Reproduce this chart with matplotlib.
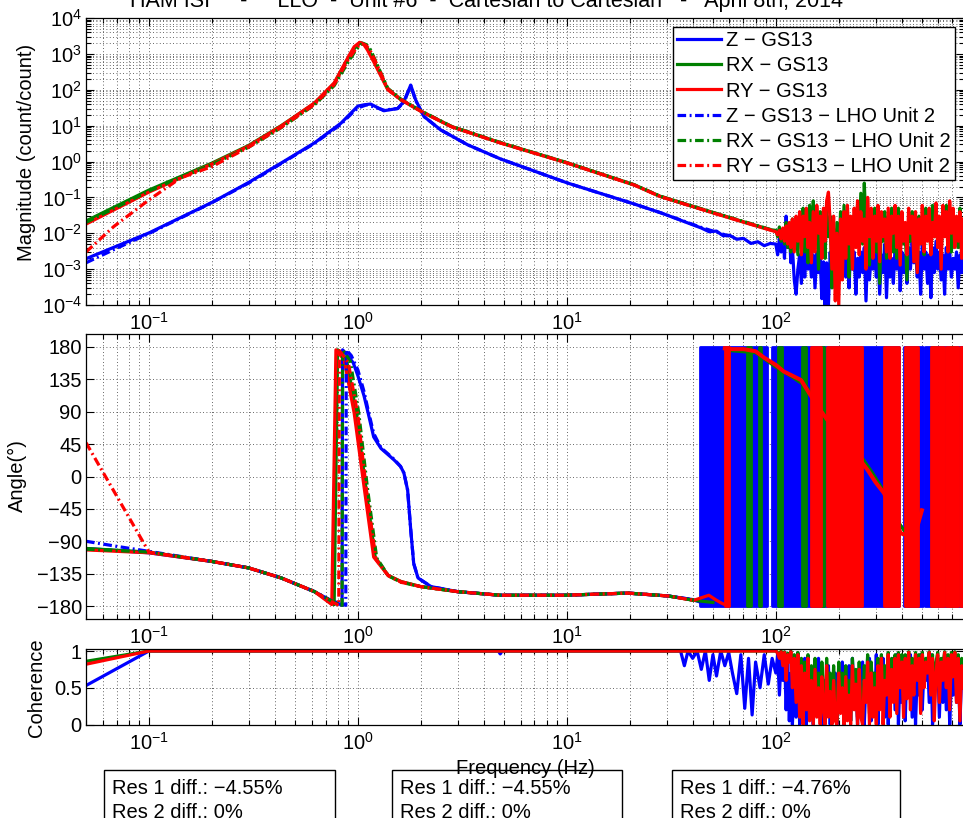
import numpy as np
import matplotlib
matplotlib.use("Agg")
import matplotlib.pyplot as plt
from matplotlib.ticker import FixedLocator, FixedFormatter, LogLocator, NullFormatter, NullLocator
from matplotlib.patches import Rectangle

plt.rcParams['font.family'] = ['Liberation Sans', 'DejaVu Sans']
plt.rcParams['mathtext.fontset'] = 'custom'
plt.rcParams['mathtext.rm'] = 'Liberation Sans'
plt.rcParams['mathtext.it'] = 'Liberation Sans:italic'
plt.rcParams['mathtext.bf'] = 'Liberation Sans:bold'

TITLE = "HAM ISI     -     LLO  -  Unit #6  -  Cartesian to Cartesian   -   April 8th, 2014"
LABELS = ["Z \u2212 GS13", "RX \u2212 GS13", "RY \u2212 GS13",
          "Z \u2212 GS13 \u2212 LHO Unit 2", "RX \u2212 GS13 \u2212 LHO Unit 2",
          "RY \u2212 GS13 \u2212 LHO Unit 2"]
RES_TEXT = [("\u22124.55%", "0%"), ("\u22124.55%", "0%"), ("\u22124.76%", "0%")]

# ---- magnitude (count/count) ----
f_z = [0.05, 0.1, 0.2, 0.3, 0.43, 0.62, 0.83, 1.0, 1.07, 1.15, 1.33, 1.55, 1.66, 1.79, 1.89,
       2.07, 2.49, 3.36, 4.83, 10.1, 20.9, 28.2, 44, 48, 52, 56, 60, 65, 70, 76, 82, 88, 94]
mag_z = [0.00195, 0.0102, 0.072, 0.26, 0.91, 3.3, 11.7, 35, 38, 40, 26, 30, 47, 135, 52,
         18, 7.6, 2.9, 1.17, 0.25, 0.066, 0.037, 0.014, 0.011, 0.0115, 0.0085, 0.0088,
         0.0068, 0.0072, 0.0052, 0.0058, 0.0045, 0.0052]
f_rx = [0.05, 0.1, 0.2, 0.3, 0.43, 0.62, 0.77, 0.9, 0.97, 1.03, 1.08, 1.12, 1.2, 1.39, 1.61,
        2.0, 2.8, 4.8, 10, 21, 28, 50, 75, 95]
mag_rx = [0.022, 0.16, 0.9, 2.8, 10, 42, 150, 760, 1500, 2050, 1800, 1350, 600, 105, 53,
          25.5, 9.5, 3.35, 0.93, 0.225, 0.107, 0.038, 0.0185, 0.0125]
f_ry = [0.05, 0.1, 0.2, 0.3, 0.43, 0.62, 0.77, 0.9, 0.96, 1.02, 1.07, 1.11, 1.2, 1.39, 1.61,
        2.0, 2.8, 4.8, 10, 21, 28, 50, 75, 95]
mag_ry = [0.018, 0.14, 0.85, 2.7, 9.8, 43, 155, 830, 1590, 2100, 1780, 1300, 550, 100, 52,
          25, 9.3, 3.3, 0.91, 0.22, 0.105, 0.037, 0.018, 0.012]

# high frequency part (noisy), shared frequency vector
f_hf = [100, 102, 104, 106, 108, 110, 112, 114, 116, 118,
        120, 122.5, 125, 127.5, 130, 132.5, 135, 137.5, 140, 142.5,
        145, 148, 151, 154, 157, 160, 163, 166, 169, 172,
        175, 178.5, 182, 185.5, 189, 192.5, 196, 200, 204, 208,
        212, 216, 220, 224, 228, 232.5, 237, 241.5, 246, 250.5,
        255, 260, 265, 270, 275, 280.5, 286, 291.5, 297, 302.5,
        308, 314, 320, 326, 332, 338.5, 345, 351.5, 358, 365,
        372, 379, 386, 393.5, 401, 408.5, 416, 424, 432, 440.5,
        449, 457.5, 466, 475, 484, 493, 502, 512, 522, 532,
        542, 552, 562, 573, 584, 595, 606, 618, 630, 642,
        654, 666.5, 679, 692, 705, 718.5, 732, 746, 760, 775, 790]
mag_z_hf = [5e-3, 2.5e-3, 7e-3, 3e-3, 1e-2, 2e-3, 3e-2, 4e-3, 1.2e-2, 1.5e-3,
            4e-3, 5e-4, 2e-4, 1e-3, 2.5e-3, 4e-4, 3e-3, 6e-4, 4e-3, 1e-3,
            3e-3, 6e-4, 2.5e-3, 3e-4, 3e-3, 8e-4, 2e-3, 1.5e-4, 1.6e-3, 1e-4,
            1.5e-3, 1e-4, 3e-3, 4e-4, 5e-3, 1e-3, 4e-3, 4e-4, 6e-3, 1e-3,
            3e-3, 6e-4, 2.5e-3, 3e-4, 4e-3, 1e-3, 3e-3, 2e-4, 2e-3, 6e-4,
            3e-3, 8e-4, 4e-3, 1.3e-4, 3e-3, 5e-4, 2.5e-3, 1e-3, 4e-3, 6e-4,
            3e-3, 2e-4, 2.5e-3, 8e-4, 5e-3, 1.6e-4, 3e-3, 6e-4, 2e-3, 4e-4,
            4e-3, 1e-3, 5e-3, 2.5e-4, 3e-3, 8e-4, 2.5e-3, 4e-4, 4e-3, 1e-3,
            6e-3, 1.5e-3, 4e-3, 6e-4, 3e-3, 2e-4, 5e-3, 1e-3, 3e-3, 4e-4,
            2.5e-3, 1.6e-4, 4e-3, 8e-4, 6e-3, 1e-3, 3e-3, 5e-4, 2.5e-3, 2e-4,
            4e-3, 1e-3, 3e-3, 6e-4, 2e-3, 1e-3, 3e-3, 3e-4, 2.5e-3, 8e-4, 2e-3]
mag_rx_hf = [1.2e-2, 8e-3, 1.5e-2, 6e-3, 1.3e-2, 5e-3, 2e-2, 4e-3, 1.6e-2, 3e-3,
             2.5e-2, 5e-3, 1.8e-2, 2.5e-3, 3e-2, 6e-3, 5e-2, 3e-3, 2e-2, 1.5e-3,
             6e-2, 4e-3, 8e-2, 1e-2, 3e-2, 1e-3, 4e-2, 5e-3, 2.5e-2, 2e-3,
             5e-2, 8e-3, 3e-2, 3e-4, 1.3e-2, 1e-3, 2e-2, 1.6e-3, 4e-2, 3e-3,
             6e-2, 4e-3, 3e-2, 6e-4, 2e-2, 5e-3, 3.2e-2, 1e-2, 6e-2, 4e-3,
             1.3e-1, 5e-3, 2.5e-1, 1.6e-2, 4e-2, 1.3e-3, 2e-2, 6e-3, 5e-2, 3e-3,
             3e-2, 4e-4, 2.5e-2, 6e-3, 4e-2, 2e-3, 3e-2, 8e-3, 5e-2, 3e-3,
             2.5e-2, 2e-3, 5e-2, 1e-2, 3e-2, 5e-3, 1.3e-2, 5e-4, 2e-2, 6e-3,
             4e-2, 4e-3, 2.5e-2, 1e-3, 3e-2, 8e-3, 1.6e-2, 2.5e-3, 5e-2, 1e-2,
             2e-2, 3e-3, 6e-2, 8e-3, 3e-2, 6e-3, 2.5e-2, 3e-3, 4e-2, 1e-2,
             6e-2, 5e-3, 2.5e-2, 3e-3, 4e-2, 1e-2, 2e-2, 4e-3, 5e-2, 8e-3, 1.3e-2]
mag_ry_hf = [1.1e-2, 9e-3, 1.2e-2, 7e-3, 1.4e-2, 6e-3, 1.6e-2, 5e-3, 2e-2, 4e-3,
             2.5e-2, 3e-3, 3e-2, 6e-3, 4e-2, 2.5e-3, 3e-2, 8e-3, 5e-2, 4e-3,
             2e-2, 1.5e-3, 4e-2, 3e-3, 6e-2, 1e-2, 3e-2, 2e-3, 5e-2, 6e-3,
             8e-2, 1.4e-1, 2e-2, 1e-3, 3e-2, 1.3e-4, 1e-2, 1e-4, 2.5e-2, 5e-4,
             4e-2, 2e-3, 6e-2, 5e-3, 3e-2, 1e-3, 5e-2, 4e-3, 8e-2, 2.5e-3,
             4e-2, 6e-3, 2.5e-2, 1e-3, 1e-1, 8e-3, 5e-2, 2e-3, 3e-2, 6e-3,
             6e-2, 1.6e-3, 4e-2, 8e-3, 2.5e-2, 3e-3, 5e-2, 2e-3, 3e-2, 1e-2,
             6e-2, 4e-3, 3e-2, 1.3e-3, 4e-2, 6e-3, 2e-2, 2.5e-3, 5e-2, 1e-2,
             3e-2, 1.6e-3, 4e-2, 8e-4, 2.5e-2, 5e-3, 6e-2, 3e-3, 3e-2, 6e-3,
             5e-2, 2.5e-3, 2e-2, 8e-3, 7e-2, 4e-3, 3e-2, 1e-3, 6e-2, 8e-3,
             4e-2, 3e-3, 8e-2, 1e-2, 5e-2, 4e-3, 3e-2, 6e-3, 4e-2, 2e-3, 2.5e-2]

# LHO Unit 2 reference
f_z_lho = [0.05, 0.07, 0.1, 0.2, 0.3, 0.43, 0.62, 0.83, 0.95, 1.0, 1.1, 1.2, 1.33, 1.55, 1.66,
           1.79, 1.89, 2.07, 2.49, 3.36, 4.83, 10.1, 20.9, 28.2, 44, 60]
mag_z_lho = [0.0015, 0.0038, 0.0098, 0.071, 0.25, 0.88, 3.2, 11, 24, 31, 38, 33, 27, 30, 45,
             130, 50, 18, 7.6, 2.9, 1.17, 0.25, 0.066, 0.037, 0.0145, 0.0083]
f_rx_lho = [0.05, 0.1, 0.2, 0.3, 0.43, 0.62, 0.77, 0.9, 0.98, 1.05, 1.1, 1.15, 1.22, 1.39,
            1.61, 2.0, 2.8, 4.8, 10, 21, 28, 50, 75, 95]
mag_rx_lho = [0.02, 0.15, 0.82, 2.5, 8.8, 38, 130, 600, 1300, 2000, 1800, 1300, 600, 110,
              54, 26, 9.6, 3.4, 0.93, 0.225, 0.108, 0.038, 0.019, 0.0125]
f_ry_lho = [0.05, 0.068, 0.1, 0.142, 0.2, 0.3, 0.43, 0.62, 0.77, 0.9, 0.98, 1.04, 1.09, 1.14,
            1.22, 1.39, 1.61, 2.0, 2.8, 4.8, 10, 21, 28, 50, 75, 95]
mag_ry_lho = [0.003, 0.0155, 0.085, 0.35, 0.72, 2.5, 9.0, 39, 140, 700, 1400, 2000, 1750,
              1300, 580, 105, 53, 25.5, 9.4, 3.3, 0.92, 0.222, 0.106, 0.037, 0.0185, 0.0122]

# ---- phase (deg) ----
fp_z = [0.05, 0.1, 0.2, 0.3, 0.43, 0.62, 0.74, 0.8, 0.84, 0.845, 0.87, 0.95, 1.0, 1.07, 1.12,
        1.19, 1.29, 1.49, 1.6, 1.66, 1.73, 1.79, 1.85, 1.94, 2.24, 3.0, 4.8, 9.7, 19.6, 30.5,
        40, 44]
ph_z = [-100, -106, -118, -127, -141, -160, -172, -176, -179, 176, 172, 158, 140, 112, 88,
        55, 39, 23, 14, 5, -19, -74, -121, -141, -153, -160, -165, -165, -162, -166, -171, -175]
fp_rx = [0.05, 0.1, 0.2, 0.3, 0.43, 0.62, 0.77, 0.8, 0.88, 0.98, 1.09, 1.21, 1.4, 1.61, 2.0,
         3.0, 4.8, 9.7, 19.6, 30.5, 40.5, 50]
ph_rx = [-100, -105, -118, -127, -141, -160, -178, 176, 164, 90, -14, -112, -138, -146, -153,
         -160, -165, -165, -162, -166, -172, -175]
fp_ry = [0.05, 0.1, 0.2, 0.3, 0.43, 0.62, 0.75, 0.785, 0.86, 0.96, 1.07, 1.19, 1.39, 1.61,
         2.0, 3.0, 4.8, 9.7, 19.6, 30.5, 40.5, 47.8, 52, 55, 57]
ph_ry = [-102, -106, -118, -127, -141, -160, -178, 176, 162, 88, -14, -112, -137, -146, -153,
         -160, -165, -165, -162, -166, -172, -165, -172, -176, -178]
fp_z_lho = [0.05, 0.07, 0.1, 0.2, 0.3, 0.43, 0.62, 0.74, 0.85, 0.875, 0.88, 0.93, 1.0, 1.07,
            1.12, 1.19, 1.29, 1.49, 1.6, 1.66, 1.73, 1.79, 1.85, 1.94, 2.24, 3.0, 4.8, 9.7,
            19.6, 30.5, 40]
ph_z_lho = [-90, -97, -104, -118, -127, -141, -160, -172, -178, -179, 176, 168, 148, 118, 92,
            60, 40, 24, 14, 5, -19, -74, -121, -141, -153, -160, -165, -165, -162, -166, -171]
fp_rx_lho = [0.05, 0.1, 0.2, 0.3, 0.43, 0.62, 0.76, 0.84, 0.845, 0.92, 1.01, 1.11, 1.23, 1.4,
             1.61, 2.0, 3.0, 4.8, 9.7, 19.6, 30.5, 40.5]
ph_rx_lho = [-101, -105, -118, -127, -141, -160, -174, -179, 176, 160, 88, -15, -113, -138,
             -147, -153, -160, -165, -165, -162, -166, -172]
fp_ry_lho = [0.05, 0.1, 0.2, 0.3, 0.43, 0.62, 0.76, 0.81, 0.815, 0.9, 1.0, 1.1, 1.22, 1.4,
             1.61, 2.0, 3.0, 4.8, 9.7, 19.6, 30.5, 40.5]
ph_ry_lho = [47, -105, -118, -127, -141, -160, -175, -179, 175, 158, 85, -20, -115, -138,
             -147, -153, -160, -165, -165, -162, -166, -172]

# above ~45 Hz the phase wraps faster than the plot resolves: frequency spans (Hz)
wrap_z = [(43.5, 91), (96, 390), (410, 505), (520, 800)]
wrap_rx = [(73, 76), (83, 85), (102, 107), (134, 139), (165, 170), (560, 570), (690, 705)]
wrap_ry = [(57, 60), (148, 165), (175, 258), (330, 388), (415, 478), (555, 640), (655, 745),
           (760, 800)]
fp_rx_hf = [60, 80, 100, 120, 140, 160, 180, 200, 230, 260, 290, 320, 350, 380, 410, 440]
ph_rx_hf = [175, 172, 152, 138, 125, 100, 85, 70, 45, 25, 5, -15, -38, -60, -75, -80]
fp_ry_hf = [57, 62, 70, 80, 88, 100, 109, 120, 132, 145, 159, 175, 189, 208, 228, 250, 275,
            300, 329, 350, 367, 396, 430, 458, 480, 500]
ph_ry_hf = [178, 177, 177, 174, 165, 155, 146, 140, 134, 115, 97, 80, 69, 55, 41, 25, 9, -8,
            -23, -40, -56, -79, -82, -84, -65, -47]

# ---- coherence ----
fc_z = [0.05, 0.1, 4.7, 4.8, 4.9, 35, 36.5, 38, 40, 42, 44, 46, 48, 50, 52, 54.5, 57, 59.5,
        62, 65, 68, 71, 74, 77, 80, 84, 88, 92, 96]
coh_z = [0.53, 1.0, 1.0, 0.96, 1.0, 1.0, 0.8, 1.0, 0.9, 1.0, 0.75, 1.0, 0.6, 0.95, 0.66, 1.0,
         0.8, 0.98, 0.7, 0.42, 0.95, 0.22, 0.9, 0.13, 0.85, 0.5, 0.95, 0.55, 0.9]
fc_xy = [0.05, 0.1, 98]
coh_rx = [0.86, 1.0, 1.0]
coh_ry = [0.82, 1.0, 1.0]
coh_z_hf = [0.7, 0.95, 0.4, 0.9, 0.6, 0.95, 0.2, 0.85, 0.05, 0.7, 0.0,
            0.6, 0.1, 0.8, 0.0, 0.5, 0.3, 0.9, 0.0, 0.6, 0.15,
            0.7, 0.0, 0.5, 0.35, 0.9, 0.1, 0.7, 0.0, 0.6, 0.2,
            0.8, 0.0, 0.6, 0.1, 0.7, 0.0, 0.5, 0.3, 0.85, 0.0,
            0.6, 0.2, 0.8, 0.05, 0.9, 0.3, 0.6, 0.0, 0.75, 0.1,
            0.85, 0.0, 0.6, 0.4, 0.9, 0.05, 0.7, 0.2, 0.95, 0.0,
            0.8, 0.3, 0.9, 0.1, 0.75, 0.0, 0.6, 0.4, 0.9, 0.2,
            0.95, 0.0, 0.7, 0.3, 0.9, 0.05, 0.8, 0.5, 0.95, 0.1,
            0.85, 0.0, 0.7, 0.4, 0.95, 0.2, 0.8, 0.6, 0.9, 0.3,
            0.95, 0.0, 0.7, 0.5, 0.9, 0.1, 0.8, 0.3, 0.95, 0.2,
            0.9, 0.0, 0.6, 0.4, 0.9, 0.3, 0.85, 0.0, 0.7, 0.5]
coh_rx_hf = [1.0, 0.98, 0.95, 1.0, 0.9, 0.99, 0.8, 0.97, 0.9, 1.0, 0.7,
             0.95, 0.5, 0.98, 0.3, 0.9, 0.1, 0.85, 0.4, 0.95, 0.2,
             0.8, 0.05, 0.9, 0.3, 0.7, 0.1, 0.85, 0.4, 0.05, 0.9,
             0.3, 0.7, 0.1, 0.8, 0.2, 0.05, 0.85, 0.35, 0.7, 0.1,
             0.8, 0.2, 0.6, 0.05, 0.9, 0.4, 0.75, 0.1, 0.85, 0.3,
             0.1, 0.8, 0.5, 0.95, 0.15, 0.85, 0.3, 0.7, 0.1, 0.9,
             0.4, 0.95, 0.2, 0.8, 0.6, 0.98, 0.3, 0.9, 0.5, 0.95,
             0.35, 0.98, 0.7, 0.95, 0.3, 0.95, 0.55, 0.99, 0.4, 0.9,
             0.6, 0.98, 0.8, 0.95, 0.35, 0.98, 0.7, 0.9, 0.85, 0.99,
             0.6, 0.95, 0.25, 0.85, 0.98, 0.5, 0.9, 0.8, 0.99, 0.7,
             0.95, 0.4, 0.98, 0.8, 0.99, 0.5, 0.95, 0.3, 0.9, 0.7]
coh_ry_hf = [1.0, 0.97, 0.9, 0.99, 0.8, 0.98, 0.6, 0.95, 0.85, 0.99, 0.5,
             0.9, 0.3, 0.95, 0.1, 0.8, 0.0, 0.7, 0.2, 0.9, 0.05,
             0.6, 0.0, 0.75, 0.1, 0.5, 0.0, 0.65, 0.2, 0.0, 0.8,
             0.1, 0.45, 0.0, 0.6, 0.05, 0.0, 0.7, 0.15, 0.5, 0.0,
             0.65, 0.05, 0.4, 0.0, 0.8, 0.2, 0.55, 0.0, 0.75, 0.1,
             0.0, 0.6, 0.3, 0.85, 0.0, 0.7, 0.1, 0.5, 0.0, 0.8,
             0.2, 0.9, 0.0, 0.6, 0.4, 0.95, 0.1, 0.75, 0.3, 0.9,
             0.15, 0.95, 0.5, 0.85, 0.1, 0.9, 0.35, 0.98, 0.2, 0.8,
             0.4, 0.95, 0.6, 0.9, 0.15, 0.95, 0.5, 0.85, 0.7, 0.98,
             0.4, 0.9, 0.05, 0.7, 0.95, 0.3, 0.85, 0.6, 0.98, 0.5,
             0.9, 0.2, 0.95, 0.65, 0.98, 0.3, 0.9, 0.05, 0.8, 0.5]

BLUE, GREEN, RED = '#0000ff', '#008000', '#ff0000'
LW = 2.3
DASHDOT = (0, (2.7, 1.1, 0.6, 1.1))
FS = 14.5
W, H = 963, 818

fig = plt.figure(figsize=(W / 100, H / 100), dpi=100)


def px_axes(left, top, right, bottom):
    return fig.add_axes([left / W, 1 - bottom / H, (right - left) / W, (bottom - top) / H])


def decade(e):
    return r'$\mathregular{10^{%d}}$' % e


def matlab_style(ax):
    ax.set_xscale('log')
    ax.set_xlim(0.05, 795)
    ax.xaxis.set_major_locator(FixedLocator([0.1, 1, 10, 100]))
    ax.xaxis.set_major_formatter(FixedFormatter([decade(e) for e in (-1, 0, 1, 2)]))
    ax.xaxis.set_minor_locator(LogLocator(base=10, subs=np.arange(2, 10), numticks=60))
    ax.xaxis.set_minor_formatter(NullFormatter())
    ax.tick_params(which='both', direction='in', top=True, right=True, labelsize=FS)
    ax.tick_params(which='major', length=6, width=0.8)
    ax.tick_params(which='minor', length=3.5, width=0.8)
    ax.tick_params(axis='x', pad=5)
    ax.tick_params(axis='y', pad=3)
    ax.grid(True, which='both', linestyle=(0, (1, 3)), color='0.2', linewidth=0.6)
    ax.set_axisbelow(True)
    for s in ax.spines.values():
        s.set_linewidth(0.9)


ax_mag = px_axes(86, 18, 964, 305)
ax_ph = px_axes(86, 334, 964, 619)
ax_coh = px_axes(86, 648.8, 964, 724.5)
for ax in (ax_mag, ax_ph, ax_coh):
    matlab_style(ax)

# magnitude
ax_mag.set_yscale('log')
ax_mag.set_ylim(1e-4, 1e4)
ax_mag.yaxis.set_major_locator(FixedLocator([10.0 ** e for e in range(-4, 5)]))
ax_mag.yaxis.set_major_formatter(FixedFormatter([decade(e) for e in range(-4, 5)]))
ax_mag.yaxis.set_minor_locator(LogLocator(base=10, subs=np.arange(2, 10), numticks=60))
ax_mag.yaxis.set_minor_formatter(NullFormatter())

lines = []
lines += ax_mag.plot(np.concatenate([f_z, f_hf]), np.concatenate([mag_z, mag_z_hf]),
                     color=BLUE, lw=LW)
lines += ax_mag.plot(np.concatenate([f_rx, f_hf]), np.concatenate([mag_rx, mag_rx_hf]),
                     color=GREEN, lw=LW)
lines += ax_mag.plot(np.concatenate([f_ry, f_hf]), np.concatenate([mag_ry, mag_ry_hf]),
                     color=RED, lw=LW)
lines += ax_mag.plot(f_z_lho, mag_z_lho, color=BLUE, lw=LW, ls=DASHDOT)
lines += ax_mag.plot(f_rx_lho, mag_rx_lho, color=GREEN, lw=LW, ls=DASHDOT)
lines += ax_mag.plot(f_ry_lho, mag_ry_lho, color=RED, lw=LW, ls=DASHDOT)
ax_mag.set_ylabel('Magnitude (count/count)', fontsize=FS)
ax_mag.yaxis.set_label_coords(-0.057, 0.533)

leg = ax_mag.legend(lines, LABELS, loc='upper right', bbox_to_anchor=(955 / W, 1 - 27 / H),
                    bbox_transform=fig.transFigure, borderaxespad=0, fontsize=FS,
                    handlelength=2.2, handletextpad=0.25, labelspacing=0.31, borderpad=0.2,
                    fancybox=False, framealpha=1, edgecolor='black')
leg.get_frame().set_linewidth(1.0)

# phase
ax_ph.set_ylim(-198, 198)
ph_ticks = list(range(-180, 181, 45))
ax_ph.yaxis.set_major_locator(FixedLocator(ph_ticks))
ax_ph.yaxis.set_major_formatter(FixedFormatter([str(t).replace('-', '\u2212') for t in ph_ticks]))
ax_ph.yaxis.set_minor_locator(NullLocator())

for spans, col, z in ((wrap_z, BLUE, 2.0), (wrap_rx, GREEN, 2.1), (wrap_ry, RED, 2.2)):
    for a, b in spans:
        ax_ph.fill_between([a, b], -180, 180, color=col, lw=2, zorder=z)
ax_ph.plot(fp_z, ph_z, color=BLUE, lw=LW, zorder=2.0)
ax_ph.plot(fp_rx, ph_rx, color=GREEN, lw=LW, zorder=2.1)
ax_ph.plot(fp_rx_hf, ph_rx_hf, color=GREEN, lw=LW, zorder=2.1)
ax_ph.plot(fp_ry, ph_ry, color=RED, lw=LW, zorder=2.2)
ax_ph.plot(fp_ry_hf, ph_ry_hf, color=RED, lw=LW + 0.6, zorder=2.2)
ax_ph.plot(fp_z_lho, ph_z_lho, color=BLUE, lw=LW, ls=DASHDOT, zorder=2.3)
ax_ph.plot(fp_rx_lho, ph_rx_lho, color=GREEN, lw=LW, ls=DASHDOT, zorder=2.4)
ax_ph.plot(fp_ry_lho, ph_ry_lho, color=RED, lw=LW, ls=DASHDOT, zorder=2.5)
ax_ph.set_ylabel('Angle(\u00b0)', fontsize=FS)
ax_ph.yaxis.set_label_coords(-0.067, 0.505)

# coherence
ax_coh.set_ylim(0, 1.03)
ax_coh.yaxis.set_major_locator(FixedLocator([0, 0.5, 1]))
ax_coh.yaxis.set_major_formatter(FixedFormatter(['0', '0.5', '1']))
ax_coh.yaxis.set_minor_locator(NullLocator())
ax_coh.plot(np.concatenate([fc_z, f_hf]), np.concatenate([coh_z, coh_z_hf]), color=BLUE, lw=LW)
ax_coh.plot(np.concatenate([fc_xy, f_hf]), np.concatenate([coh_rx, coh_rx_hf]), color=GREEN, lw=LW)
ax_coh.plot(np.concatenate([fc_xy, f_hf]), np.concatenate([coh_ry, coh_ry_hf]), color=RED, lw=LW)
ax_coh.set_ylabel('Coherence', fontsize=FS)
ax_coh.yaxis.set_label_coords(-0.046, 0.49)
ax_coh.set_xlabel('Frequency (Hz)', fontsize=FS)
ax_coh.xaxis.set_label_coords(0.5, -0.45)

fig.text(130 / W, 1 - 6.5 / H, TITLE, ha='left', va='baseline', fontsize=15.5)

# resonance difference boxes under the plot
for (x0, x1), (r1, r2) in zip([(104, 335), (392, 622), (672, 900)], RES_TEXT):
    fig.add_artist(Rectangle((x0 / W, -0.05), (x1 - x0) / W, 0.05 + 48 / H,
                             transform=fig.transFigure, fill=False, ec='black', lw=1.0))
    fig.text((x0 + 8) / W, 1 - 788 / H, 'Res 1 diff.: ' + r1, fontsize=FS, va='center')
    fig.text((x0 + 8) / W, 1 - 812 / H, 'Res 2 diff.: ' + r2, fontsize=FS, va='center')

fig.savefig('out.png', dpi=100)
